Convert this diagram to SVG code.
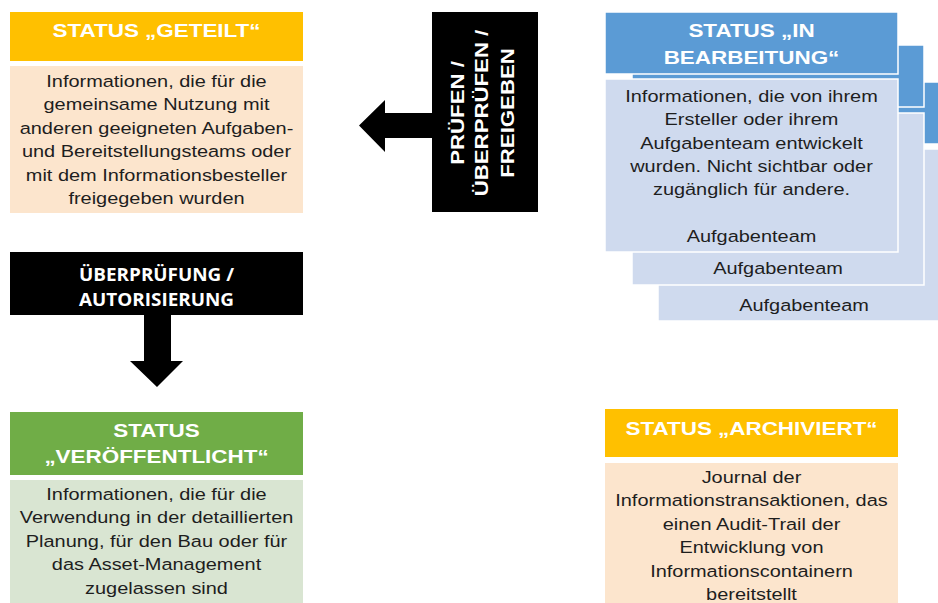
<svg xmlns="http://www.w3.org/2000/svg" width="938" height="603" viewBox="0 0 938 603">
<style>
.h{font-family:"Liberation Sans",Arial,sans-serif;font-weight:700;font-size:18.7px;fill:#fff;text-anchor:middle}
.v{font-family:"Liberation Sans",Arial,sans-serif;font-weight:700;font-size:19px;fill:#fff;text-anchor:middle}
.b{font-family:"Liberation Sans",Arial,sans-serif;font-size:16.9px;fill:#1e1e1e;text-anchor:middle}
.o{font-family:"Open Sans",sans-serif;font-weight:700;font-size:18px;fill:#fff;text-anchor:middle}
.yel{fill:#FFC000}
.peach{fill:#FCE5CD}
.blue{fill:#5B9BD5;stroke:#fff;stroke-width:1.5}
.lblue{fill:#CFDAEE;stroke:#fff;stroke-width:1.5}
.arrow{fill:#000}
</style>
<rect width="938" height="603" fill="#fff"/>

<g id="geteilt">
<rect class="yel" x="10" y="12" width="293" height="49"/>
<rect class="peach" x="10" y="66" width="293" height="147"/>
<g transform="translate(156.5,0) scale(1.2,1)"><text class="h" x="0" y="37">STATUS „GETEILT“</text></g>
<g transform="translate(156.5,0) scale(1.18,1)">
<text class="b" x="0" y="87">Informationen, die für die</text>
<text class="b" x="0" y="110.5">gemeinsame Nutzung mit</text>
<text class="b" x="0" y="134">anderen geeigneten Aufgaben-</text>
<text class="b" x="0" y="157.5">und Bereitstellungsteams oder</text>
<text class="b" x="0" y="181">mit dem Informationsbesteller</text>
<text class="b" x="0" y="204">freigegeben wurden</text>
</g>
</g>

<g id="pruefen">
<rect x="432" y="12" width="106" height="200" fill="#000"/>
<g transform="translate(464,113) rotate(-90) scale(1.17,1)">
<text class="v" x="0" y="0">PRÜFEN /</text>
<text class="v" x="0" y="24.5">ÜBERPRÜFEN /</text>
<text class="v" x="0" y="50">FREIGEBEN</text>
</g>
</g>

<g id="ueberpruefung">
<rect x="10" y="252" width="293" height="63" fill="#000"/>
<g transform="translate(156.5,0) scale(1.05,1)">
<text class="o" x="0" y="281">ÜBERPRÜFUNG /</text>
<text class="o" x="0" y="306">AUTORISIERUNG</text>
</g>
</g>

<g id="connectors">
<polygon class="arrow" points="433,113 385,113 385,100 359,125.5 385,152 385,138 433,138"/>
<polygon class="arrow" points="144,315 171,315 171,361 183,361 157,387 130,361 144,361"/>
</g>

<g id="veroeffentlicht">
<rect x="10" y="412" width="293" height="63" fill="#70AD47"/>
<rect x="10" y="480" width="293" height="124" fill="#D9E5D2"/>
<g transform="translate(156.5,0) scale(1.2,1)">
<text class="h" x="0" y="437">STATUS</text>
<text class="h" x="0" y="463">„VERÖFFENTLICHT“</text>
</g>
<g transform="translate(156.5,0) scale(1.18,1)">
<text class="b" x="0" y="500">Informationen, die für die</text>
<text class="b" x="0" y="523.5">Verwendung in der detaillierten</text>
<text class="b" x="0" y="547">Planung, für den Bau oder für</text>
<text class="b" x="0" y="570.5">das Asset-Management</text>
<text class="b" x="0" y="594">zugelassen sind</text>
</g>
</g>

<g id="archiviert">
<rect class="yel" x="605" y="409" width="293" height="48"/>
<rect class="peach" x="605" y="463" width="293" height="141"/>
<g transform="translate(751.5,0) scale(1.2,1)"><text class="h" x="0" y="435">STATUS „ARCHIVIERT“</text></g>
<g transform="translate(751.5,0) scale(1.18,1)">
<text class="b" x="0" y="483">Journal der</text>
<text class="b" x="0" y="506.5">Informationstransaktionen, das</text>
<text class="b" x="0" y="530">einen Audit-Trail der</text>
<text class="b" x="0" y="553.5">Entwicklung von</text>
<text class="b" x="0" y="577">Informationscontainern</text>
<text class="b" x="0" y="600">bereitstellt</text>
</g>
</g>

<g id="bearbeitung3">
<rect class="blue" x="658" y="82" width="293" height="62"/>
<rect class="lblue" x="658" y="149" width="293" height="172"/>
<g transform="translate(804,0) scale(1.18,1)"><text class="b" x="0" y="311">Aufgabenteam</text></g>
</g>

<g id="bearbeitung2">
<rect class="blue" x="632" y="45" width="292" height="62"/>
<rect class="lblue" x="632" y="113" width="292" height="172"/>
<g transform="translate(778,0) scale(1.18,1)"><text class="b" x="0" y="274">Aufgabenteam</text></g>
</g>

<g id="bearbeitung1">
<rect class="blue" x="605" y="12" width="293" height="62"/>
<rect class="lblue" x="605" y="79" width="293" height="173"/>
<g transform="translate(751.5,0) scale(1.2,1)">
<text class="h" x="0" y="37">STATUS „IN</text>
<text class="h" x="0" y="64">BEARBEITUNG“</text>
</g>
<g transform="translate(751.5,0) scale(1.18,1)">
<text class="b" x="0" y="102">Informationen, die von ihrem</text>
<text class="b" x="0" y="125.3">Ersteller oder ihrem</text>
<text class="b" x="0" y="148.6">Aufgabenteam entwickelt</text>
<text class="b" x="0" y="172">wurden. Nicht sichtbar oder</text>
<text class="b" x="0" y="195">zugänglich für andere.</text>
<text class="b" x="0" y="242">Aufgabenteam</text>
</g>
</g>
</svg>
